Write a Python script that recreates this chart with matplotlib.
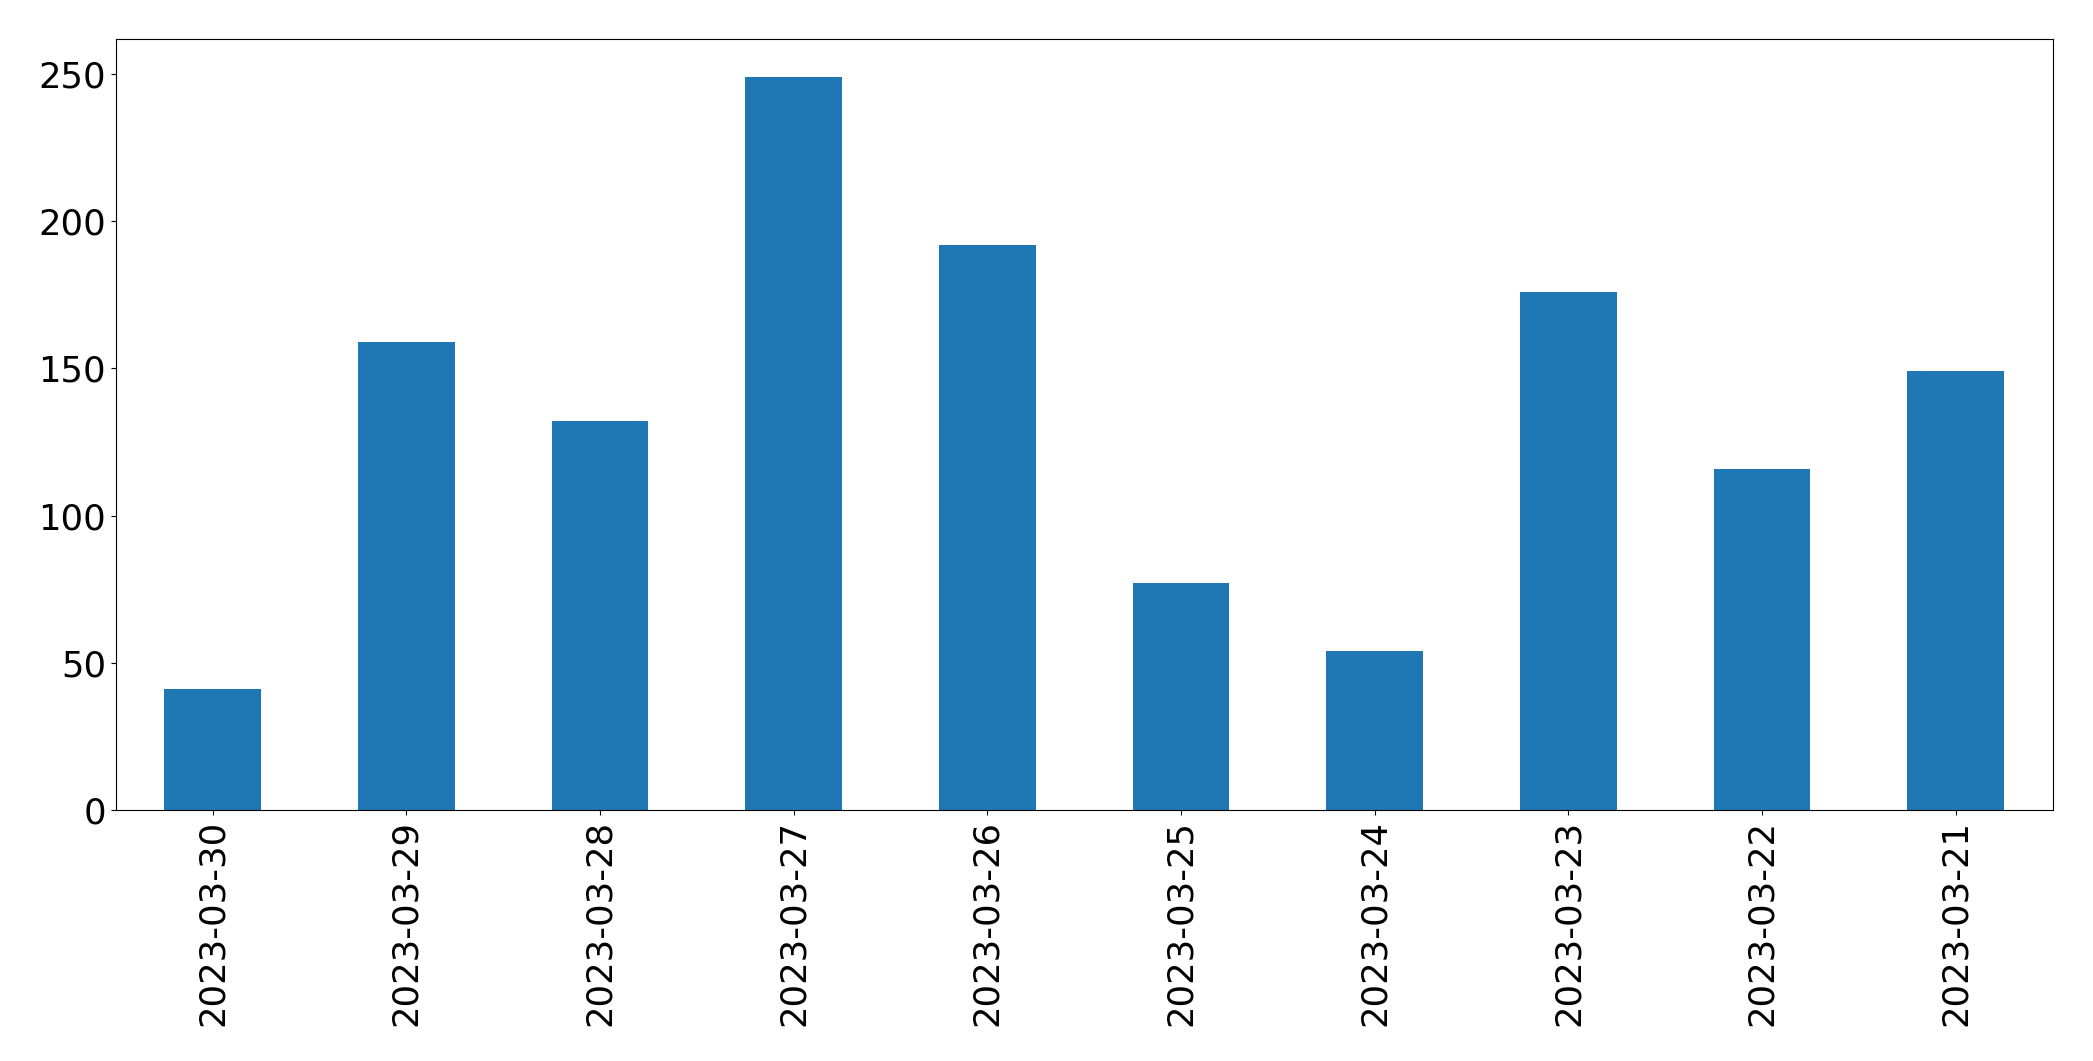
import matplotlib
matplotlib.use("Agg")
import matplotlib.pyplot as plt

# daily counts, newest first
dates = ['2023-03-30', '2023-03-29', '2023-03-28', '2023-03-27', '2023-03-26',
         '2023-03-25', '2023-03-24', '2023-03-23', '2023-03-22', '2023-03-21']
counts = [41, 159, 132, 249, 192, 77, 54, 176, 116, 149]

fig = plt.figure(figsize=(20.93, 10.61), dpi=100)
ax = fig.add_axes([115.7/2093, 1-810/1061, (2052.6-115.7)/2093, (810-38.7)/1061])

ax.bar(range(len(dates)), counts, width=0.5, color='#1f77b4')
ax.set_xlim(-0.5, len(dates)-0.5)
ax.set_ylim(0, 262)
ax.set_xticks(range(len(dates)))
ax.set_xticklabels(dates, rotation=90)
ax.set_yticks([0, 50, 100, 150, 200, 250])
ax.tick_params(labelsize=25.5)

fig.savefig('out.png', dpi=100)
